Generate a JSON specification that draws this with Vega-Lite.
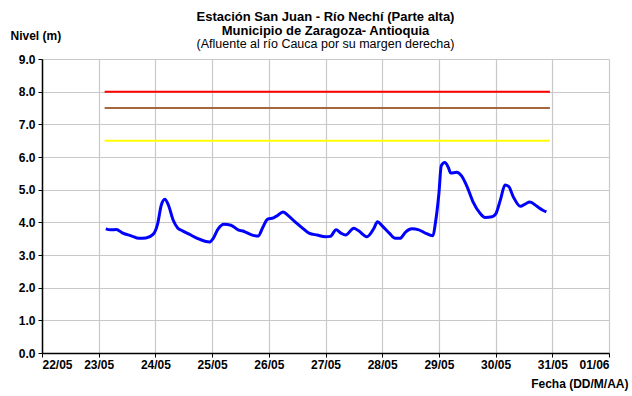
{
  "$schema": "https://vega.github.io/schema/vega-lite/v6.json",
  "width": 567,
  "height": 294,
  "autosize": {"type": "none"},
  "padding": {"left": 42, "top": 59, "right": 23, "bottom": 43},
  "background": "white",
  "title": {
    "text": ["Estación San Juan  - Río Nechí (Parte alta)", "Municipio de Zaragoza- Antioquia"],
    "subtitle": "(Afluente al río Cauca por su margen derecha)",
    "anchor": "middle",
    "frame": "group",
    "dx": 0,
    "dy": 28,
    "offset": 7,
    "font": "Liberation Sans",
    "fontSize": 13,
    "fontWeight": "bold",
    "lineHeight": 13.5,
    "color": "black",
    "subtitleFont": "Liberation Sans",
    "subtitleFontSize": 12.5,
    "subtitleFontWeight": "normal",
    "subtitleColor": "black",
    "subtitlePadding": 0,
    "subtitleLineHeight": 13.5
  },
  "config": {
    "view": {"stroke": null},
    "axis": {
      "labelFont": "Liberation Sans",
      "labelFontSize": 12,
      "labelFontWeight": "bold",
      "labelColor": "black",
      "titleFont": "Liberation Sans",
      "titleFontSize": 12,
      "titleFontWeight": "bold",
      "titleColor": "black",
      "domainColor": "black",
      "domainWidth": 1.5,
      "tickColor": "black",
      "tickSize": 4,
      "gridColor": "#c8c8c8",
      "gridWidth": 1.2
    }
  },
  "datasets": {
    "nivel": [
      {"t": "2023-05-23T03:00", "v": 3.80},
      {"t": "2023-05-23T05:00", "v": 3.77},
      {"t": "2023-05-23T07:30", "v": 3.78},
      {"t": "2023-05-23T10:00", "v": 3.68},
      {"t": "2023-05-23T14:00", "v": 3.58},
      {"t": "2023-05-23T17:00", "v": 3.51},
      {"t": "2023-05-23T20:00", "v": 3.52},
      {"t": "2023-05-23T23:00", "v": 3.63},
      {"t": "2023-05-24T01:00", "v": 3.97},
      {"t": "2023-05-24T02:30", "v": 4.53},
      {"t": "2023-05-24T04:00", "v": 4.71},
      {"t": "2023-05-24T05:30", "v": 4.53},
      {"t": "2023-05-24T07:30", "v": 4.07},
      {"t": "2023-05-24T09:30", "v": 3.82},
      {"t": "2023-05-24T11:30", "v": 3.74},
      {"t": "2023-05-24T14:30", "v": 3.63},
      {"t": "2023-05-24T18:00", "v": 3.50},
      {"t": "2023-05-24T21:00", "v": 3.42},
      {"t": "2023-05-24T23:00", "v": 3.40},
      {"t": "2023-05-25T00:30", "v": 3.51},
      {"t": "2023-05-25T02:30", "v": 3.79},
      {"t": "2023-05-25T05:00", "v": 3.94},
      {"t": "2023-05-25T08:00", "v": 3.91},
      {"t": "2023-05-25T11:00", "v": 3.77},
      {"t": "2023-05-25T13:30", "v": 3.72},
      {"t": "2023-05-25T17:00", "v": 3.61},
      {"t": "2023-05-25T19:30", "v": 3.58},
      {"t": "2023-05-25T21:30", "v": 3.85},
      {"t": "2023-05-25T23:30", "v": 4.10},
      {"t": "2023-05-26T02:00", "v": 4.14},
      {"t": "2023-05-26T03:30", "v": 4.20},
      {"t": "2023-05-26T06:00", "v": 4.32},
      {"t": "2023-05-26T08:00", "v": 4.22},
      {"t": "2023-05-26T11:30", "v": 3.99},
      {"t": "2023-05-26T14:00", "v": 3.84},
      {"t": "2023-05-26T17:00", "v": 3.67},
      {"t": "2023-05-26T20:30", "v": 3.61},
      {"t": "2023-05-27T00:00", "v": 3.56},
      {"t": "2023-05-27T02:00", "v": 3.57},
      {"t": "2023-05-27T04:30", "v": 3.77},
      {"t": "2023-05-27T06:30", "v": 3.67},
      {"t": "2023-05-27T08:30", "v": 3.61},
      {"t": "2023-05-27T12:00", "v": 3.82},
      {"t": "2023-05-27T14:00", "v": 3.74},
      {"t": "2023-05-27T17:30", "v": 3.56},
      {"t": "2023-05-27T20:30", "v": 3.82},
      {"t": "2023-05-27T22:00", "v": 4.02},
      {"t": "2023-05-28T00:00", "v": 3.89},
      {"t": "2023-05-28T03:00", "v": 3.67},
      {"t": "2023-05-28T05:30", "v": 3.51},
      {"t": "2023-05-28T07:30", "v": 3.51},
      {"t": "2023-05-28T10:00", "v": 3.71},
      {"t": "2023-05-28T12:30", "v": 3.80},
      {"t": "2023-05-28T15:30", "v": 3.77},
      {"t": "2023-05-28T18:00", "v": 3.68},
      {"t": "2023-05-28T21:30", "v": 3.59},
      {"t": "2023-05-28T22:30", "v": 3.97},
      {"t": "2023-05-29T00:00", "v": 4.88},
      {"t": "2023-05-29T01:00", "v": 5.73},
      {"t": "2023-05-29T02:30", "v": 5.83},
      {"t": "2023-05-29T04:00", "v": 5.68},
      {"t": "2023-05-29T05:00", "v": 5.51},
      {"t": "2023-05-29T07:30", "v": 5.53},
      {"t": "2023-05-29T09:30", "v": 5.43},
      {"t": "2023-05-29T12:00", "v": 5.08},
      {"t": "2023-05-29T14:30", "v": 4.62},
      {"t": "2023-05-29T17:30", "v": 4.27},
      {"t": "2023-05-29T19:30", "v": 4.15},
      {"t": "2023-05-29T22:30", "v": 4.17},
      {"t": "2023-05-30T00:00", "v": 4.25},
      {"t": "2023-05-30T02:00", "v": 4.68},
      {"t": "2023-05-30T04:00", "v": 5.14},
      {"t": "2023-05-30T05:30", "v": 5.10},
      {"t": "2023-05-30T07:30", "v": 4.78},
      {"t": "2023-05-30T10:30", "v": 4.49},
      {"t": "2023-05-30T12:30", "v": 4.56},
      {"t": "2023-05-30T14:30", "v": 4.62},
      {"t": "2023-05-30T17:30", "v": 4.49},
      {"t": "2023-05-30T20:00", "v": 4.37},
      {"t": "2023-05-30T21:30", "v": 4.32}
    ],
    "umbrales": [
      {"t": "2023-05-23T02:30", "v": 8.0, "c": "rojo"},
      {"t": "2023-05-30T23:00", "v": 8.0, "c": "rojo"},
      {"t": "2023-05-23T02:30", "v": 7.5, "c": "naranja"},
      {"t": "2023-05-30T23:00", "v": 7.5, "c": "naranja"},
      {"t": "2023-05-23T02:30", "v": 6.5, "c": "amarillo"},
      {"t": "2023-05-30T23:00", "v": 6.5, "c": "amarillo"}
    ]
  },
  "encoding": {
    "x": {
      "field": "t",
      "type": "temporal",
      "scale": {
        "domain": [{"year": 2023, "month": 5, "date": 22}, {"year": 2023, "month": 6, "date": 1}],
        "nice": false
      },
      "axis": {
        "format": "%d/%m",
        "tickCount": {"interval": "day", "step": 1},
        "labelPadding": 2,
        "title": "Fecha (DD/M/AA)",
        "titleAlign": "right",
        "titleAnchor": null,
        "titleX": 586,
        "titleY": 30,
        "titleBaseline": "middle"
      }
    },
    "y": {
      "field": "v",
      "type": "quantitative",
      "scale": {"domain": [0, 9], "nice": false},
      "axis": {
        "format": ".1f",
        "values": [0, 1, 2, 3, 4, 5, 6, 7, 8, 9],
        "labelOverlap": false,
        "labelPadding": 3,
        "title": "Nivel (m)",
        "titleAngle": 0,
        "titleAlign": "left",
        "titleBaseline": "middle",
        "titleAnchor": null,
        "titleX": -32,
        "titleY": -24
      }
    }
  },
  "layer": [
    {
      "data": {"name": "umbrales"},
      "mark": {"type": "line", "strokeWidth": 2},
      "encoding": {
        "color": {
          "field": "c",
          "type": "nominal",
          "scale": {"domain": ["rojo", "naranja", "amarillo"], "range": ["#FF0000", "#A5673F", "#FFFF00"]},
          "legend": null
        }
      }
    },
    {
      "data": {"name": "nivel"},
      "mark": {"type": "line", "color": "#0000FF", "strokeWidth": 3, "interpolate": "monotone"}
    }
  ]
}
